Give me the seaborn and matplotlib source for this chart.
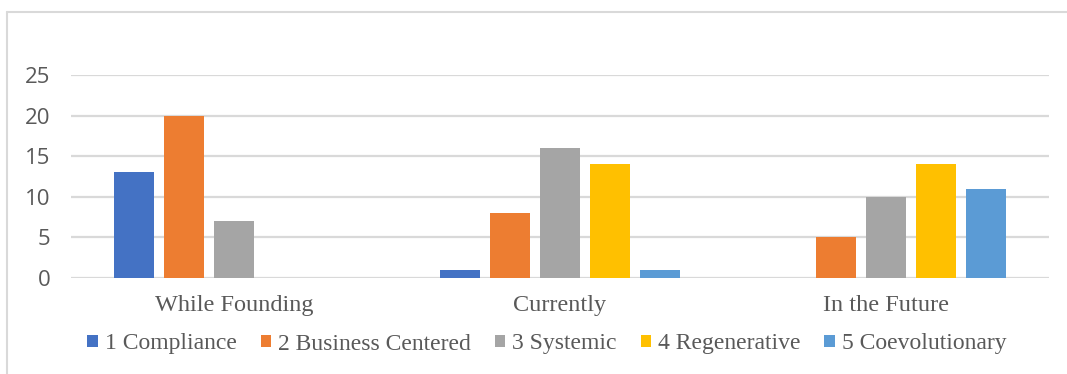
import matplotlib
matplotlib.use("Agg")
import matplotlib.pyplot as plt
import pandas as pd
import seaborn as sns
from matplotlib.lines import Line2D

categories = ["While Founding", "Currently", "In the Future"]
series = ["1 Compliance", "2 Business Centered", "3 Systemic",
          "4 Regenerative", "5 Coevolutionary"]
compliance = [13, 1, 0]
business_centered = [20, 8, 5]
systemic = [7, 16, 10]
regenerative = [0, 14, 14]
coevolutionary = [0, 1, 11]

colors = ["#4472C4", "#ED7D31", "#A5A5A5", "#FFC000", "#5B9BD5"]

rows = []
for name, vals in zip(series, [compliance, business_centered, systemic,
                               regenerative, coevolutionary]):
    for cat, v in zip(categories, vals):
        rows.append({"category": cat, "series": name, "value": v})
df = pd.DataFrame(rows)

sns.set_style("white")
fig = plt.figure(figsize=(10.67, 3.74), dpi=100)
ax = fig.add_axes([71 / 1067, 1 - 278 / 374, (1049 - 71) / 1067, (278 - 75) / 374])

sns.barplot(data=df, x="category", y="value", hue="series", order=categories,
            hue_order=series, palette=colors, width=0.767, gap=0.2,
            saturation=1, errorbar=None, ax=ax, legend=True, zorder=3,
            linewidth=0)

ax.set_ylim(0, 25)
ax.set_xlim(-0.5, 2.5)
ax.set_yticks(range(0, 26, 5))
ax.yaxis.grid(True, color="#D9D9D9", linewidth=1.6, zorder=0)
ax.set_axisbelow(True)
for s in ax.spines.values():
    s.set_visible(False)
ax.set_xlabel("")
ax.set_ylabel("")
ax.tick_params(axis="both", length=0)
ax.tick_params(axis="y", pad=15, labelsize=16, labelcolor="#595959")
ax.tick_params(axis="x", pad=12, labelsize=17.5, labelcolor="#595959")
for lab in ax.get_yticklabels():
    lab.set_fontfamily("Open Sans")
for lab in ax.get_xticklabels():
    lab.set_fontfamily("Liberation Serif")

handles, labels = ax.get_legend_handles_labels()
ax.get_legend().remove()
fig.legend(handles, labels, loc="center", bbox_to_anchor=(547 / 1067, 1 - 344 / 374),
           ncol=5, frameon=False, handlelength=0.45, handleheight=0.45,
           handletextpad=0.3, columnspacing=1.0,
           prop={"family": "Liberation Serif", "size": 17}, labelcolor="#595959")

# outer chart border (only left and top visible)
fig.add_artist(Line2D([7 / 1067, 7 / 1067], [0, 1 - 12 / 374],
                      transform=fig.transFigure, color="#D9D9D9", linewidth=1.5))
fig.add_artist(Line2D([7 / 1067, 1], [1 - 12 / 374, 1 - 12 / 374],
                      transform=fig.transFigure, color="#D9D9D9", linewidth=1.5))

fig.savefig("out.png", dpi=100)
